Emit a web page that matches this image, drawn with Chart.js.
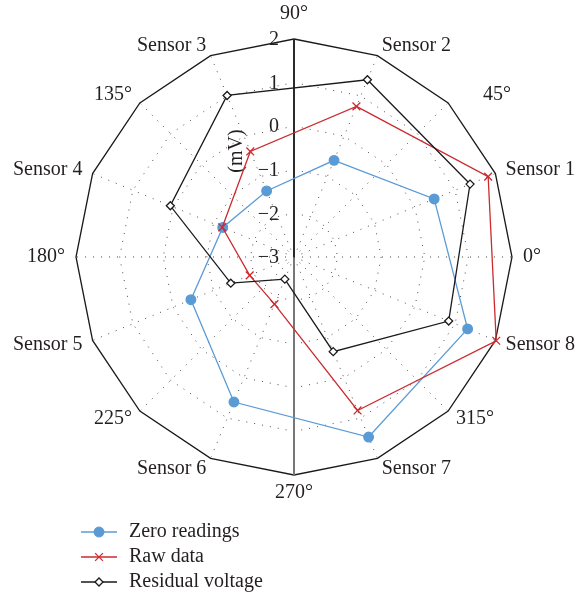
<!DOCTYPE html>
<html>
<head>
<meta charset="utf-8">
<script src="https://cdn.jsdelivr.net/npm/chart.js@4.4.1/dist/chart.umd.min.js"></script>
<style>
  html, body { margin: 0; padding: 0; background: #ffffff; }
  #wrap { width: 579px; height: 597px; position: relative; }
</style>
</head>
<body>
<div id="wrap"><canvas id="chart"></canvas></div>
<script>
// Directions around the polar grid, starting at the top and running clockwise
const directions = ['90°', 'Sensor 2', '45°', 'Sensor 1', '0°', 'Sensor 8', '315°', 'Sensor 7',
                    '270°', 'Sensor 6', '225°', 'Sensor 5', '180°', 'Sensor 4', '135°', 'Sensor 3'];
const sensors = ['Sensor 1', 'Sensor 2', 'Sensor 3', 'Sensor 4', 'Sensor 5', 'Sensor 6', 'Sensor 7', 'Sensor 8'];

// Readings per sensor (mV), Sensor 1 .. Sensor 8
const zeroReadings    = [0.48, -0.60, -1.36, -1.23, -0.44, 0.60, 1.47, 1.31];
const rawData         = [1.82, 0.74, -0.38, -1.22, -1.90, -1.83, 0.81, 2.02];
const residualVoltage = [1.37, 1.40, 1.01, 0.07, -1.43, -2.45, -0.65, 0.84];

const tickValues = [2, 1, 0, -1, -2, -3];
const unitLabel = '(mV)';
const seriesNames = ['Zero readings', 'Raw data', 'Residual voltage'];

const FONT = '"Liberation Serif", "Times New Roman", serif';
const INK = '#231f20';

// Place each sensor value at its own direction; the in-between directions stay empty
function spread(values) {
  return directions.map(d => {
    const k = sensors.indexOf(d);
    return k < 0 ? null : values[k];
  });
}

function minusSign(v) {
  return v < 0 ? '\u2212' + Math.abs(v) : String(v);
}

function drawMarker(ctx, ds, x, y) {
  ctx.save();
  ctx.fillStyle = ds.pointBackgroundColor;
  ctx.strokeStyle = ds.pointBorderColor;
  ctx.lineWidth = ds.pointBorderWidth;
  Chart.helpers.drawPoint(ctx, {
    pointStyle: ds.pointStyle,
    radius: ds.pointRadius,
    borderWidth: ds.pointBorderWidth,
    rotation: 0
  }, x, y);
  ctx.restore();
}

const decorations = {
  id: 'decorations',
  beforeDatasetsDraw(chart) {
    const ctx = chart.ctx;
    const scale = chart.scales.r;
    ctx.save();
    ctx.fillStyle = INK;
    ctx.font = '20px ' + FONT;
    // radial tick labels, just left of the vertical axis
    ctx.textAlign = 'right';
    ctx.textBaseline = 'middle';
    tickValues.forEach(v => {
      const d = scale.getDistanceFromCenterForValue(v);
      ctx.fillText(minusSign(v), scale.xCenter - 15, scale.yCenter - d + 1);
    });
    // unit label
    ctx.save();
    ctx.translate(scale.xCenter - 57, scale.yCenter - 106);
    ctx.rotate(-Math.PI / 2);
    ctx.textAlign = 'center';
    ctx.fillText(unitLabel, 0, 0);
    ctx.restore();
    ctx.restore();
  },
  afterDraw(chart) {
    const ctx = chart.ctx;
    const scale = chart.scales.r;
    const R = scale.drawingArea;
    ctx.save();
    ctx.fillStyle = INK;
    ctx.font = '20px ' + FONT;
    // direction labels around the outer polygon
    directions.forEach((txt, i) => {
      const deg = scale.getIndexAngle(i) * 180 / Math.PI;
      let p;
      if (Math.abs(deg) < 1) {
        p = scale.getPointPosition(i, R + 25);
        ctx.textAlign = 'center';
      } else if (Math.abs(deg - 180) < 1) {
        p = scale.getPointPosition(i, R + 18);
        ctx.textAlign = 'center';
      } else {
        p = scale.getPointPosition(i, R + 11);
        ctx.textAlign = deg < 180 ? 'left' : 'right';
      }
      // the 45° label sits clear of the Sensor 1 corner
      const dx = Math.abs(deg - 45) < 1 ? 27 : 0;
      ctx.textBaseline = 'middle';
      ctx.fillText(txt, p.x + dx, p.y);
    });

    // legend
    const x0 = 81, x1 = 117, tx = 129, rows = [532, 557, 582];
    chart.data.datasets.forEach((ds, k) => {
      const y = rows[k];
      ctx.strokeStyle = ds.borderColor;
      ctx.lineWidth = ds.borderWidth;
      ctx.beginPath();
      ctx.moveTo(x0, y);
      ctx.lineTo(x1, y);
      ctx.stroke();
      drawMarker(ctx, ds, (x0 + x1) / 2, y);
      ctx.fillStyle = INK;
      ctx.textAlign = 'left';
      ctx.textBaseline = 'middle';
      ctx.fillText(ds.label, tx, y);
    });
    ctx.restore();
  }
};

const series = [
  { label: seriesNames[0], values: zeroReadings, color: '#5b9bd5', style: 'circle', radius: 4.8, fill: '#5b9bd5', order: 3 },
  { label: seriesNames[1], values: rawData, color: '#cc2a2f', style: 'crossRot', radius: 5.5, fill: '#cc2a2f', order: 2 },
  { label: seriesNames[2], values: residualVoltage, color: '#1a1a1a', style: 'rectRot', radius: 4, fill: '#ffffff', order: 1 }
];

new Chart(document.getElementById('chart'), {
  type: 'radar',
  data: {
    labels: directions,
    datasets: series.map(s => ({
      label: s.label,
      data: spread(s.values),
      borderColor: s.color,
      borderWidth: 1.3,
      backgroundColor: 'rgba(0,0,0,0)',
      fill: false,
      tension: 0,
      spanGaps: true,
      pointStyle: s.style,
      pointRadius: s.radius,
      pointHoverRadius: s.radius,
      pointBackgroundColor: s.fill,
      pointBorderColor: s.color,
      pointBorderWidth: 1.3,
      order: s.order
    }))
  },
  options: {
    responsive: true,
    maintainAspectRatio: false,
    animation: false,
    devicePixelRatio: 1,
    layout: { padding: { left: 76, top: 39, right: 67, bottom: 122 } },
    plugins: {
      legend: { display: false },
      tooltip: { enabled: false }
    },
    scales: {
      r: {
        min: -3,
        max: 2,
        beginAtZero: false,
        ticks: { display: false, stepSize: 1 },
        pointLabels: { display: false },
        grid: {
          color: ctx => ctx.tick && ctx.tick.value === 2 ? '#1a1a1a' : '#4a4a4a',
          lineWidth: ctx => ctx.tick && ctx.tick.value === 2 ? 1.3 : 1
        },
        border: {
          dash: ctx => ctx.tick && ctx.tick.value === 2 ? [] : [1, 7]
        },
        angleLines: {
          color: ctx => ctx.index === 0 ? '#2a2a2a' : ctx.index === 8 ? '#777777' : '#4a4a4a',
          lineWidth: ctx => (ctx.index === 0 || ctx.index === 8) ? 2 : 1,
          borderDash: ctx => (ctx.index === 0 || ctx.index === 8) ? [] : [1, 7]
        }
      }
    }
  },
  plugins: [decorations]
});
</script>
</body>
</html>
